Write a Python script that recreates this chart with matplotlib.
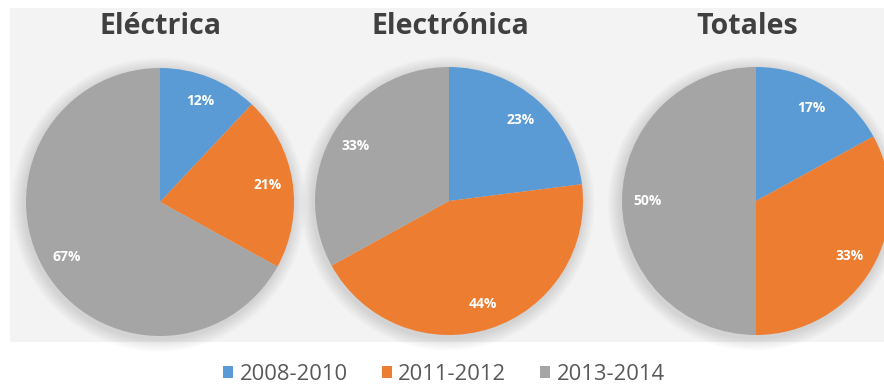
import matplotlib
matplotlib.use("Agg")
import matplotlib.pyplot as plt
from matplotlib.patches import Rectangle, Circle, Patch

# Share of each period by category
periods = ["2008-2010", "2011-2012", "2013-2014"]
titles = ["Eléctrica", "Electrónica", "Totales"]
electrica = [12, 21, 67]
electronica = [23, 44, 33]
totales = [17, 33, 50]
series = [electrica, electronica, totales]

colors = ["#5B9BD5", "#ED7D31", "#A5A5A5"]

W, H = 884, 389
fig = plt.figure(figsize=(W / 100, H / 100), dpi=100)
fig.patch.set_facecolor("white")

# light chart panel behind the pies
fig.patches.append(Rectangle((10 / W, (H - 342) / H), 1 - 10 / W, (342 - 8) / H,
                             transform=fig.transFigure, facecolor="#F3F3F3",
                             edgecolor="none", zorder=-5))

font = ["Open Sans", "DejaVu Sans"]

# pie centres and radius in pixels (x, y from top)
centres = [(160, 202), (449, 201), (756, 201)]
radius = 134
title_x = [160, 450, 747]

for (cx, cy), vals, title, tx in zip(centres, series, titles, title_x):
    pad = radius * 1.15
    ax = fig.add_axes([(cx - pad) / W, (H - cy - pad) / H, 2 * pad / W, 2 * pad / H])
    ax.set_zorder(1)
    ax.axis("off")
    # soft shadow
    for k in range(8):
        ax.add_patch(Circle((-0.01, -0.02), 1.0 + 0.012 * (k + 1), facecolor="#000000",
                            alpha=0.016, edgecolor="none", zorder=0))
    wedges, texts, autotexts = ax.pie(
        vals, colors=colors, startangle=90, counterclock=False, radius=1.0,
        autopct=lambda p: f"{p:.0f}%", pctdistance=0.81,
        wedgeprops=dict(linewidth=0), textprops=dict(color="white"))
    ax.set_xlim(-1.15, 1.15)
    ax.set_ylim(-1.15, 1.15)
    ax.set_aspect("equal")
    for t in autotexts:
        t.set_fontsize(10)
        t.set_fontweight("bold")
        t.set_family(font)
    for w in wedges:
        w.set_zorder(2)
    fig.text(tx / W, (H - 27) / H, title, ha="center", va="center",
             fontsize=20.5, fontweight="bold", color="#404040", family=font)

handles = [Patch(facecolor=c, edgecolor="none") for c in colors]
leg = fig.legend(handles, periods, loc="center", bbox_to_anchor=(444 / W, (H - 374) / H),
                 ncol=3, frameon=False, handlelength=0.45, handleheight=0.45,
                 handletextpad=0.3, columnspacing=1.55,
                 prop=dict(family=font, size=15.8))
for t in leg.get_texts():
    t.set_color("#595959")

fig.savefig("out.png", dpi=100, facecolor="white")
